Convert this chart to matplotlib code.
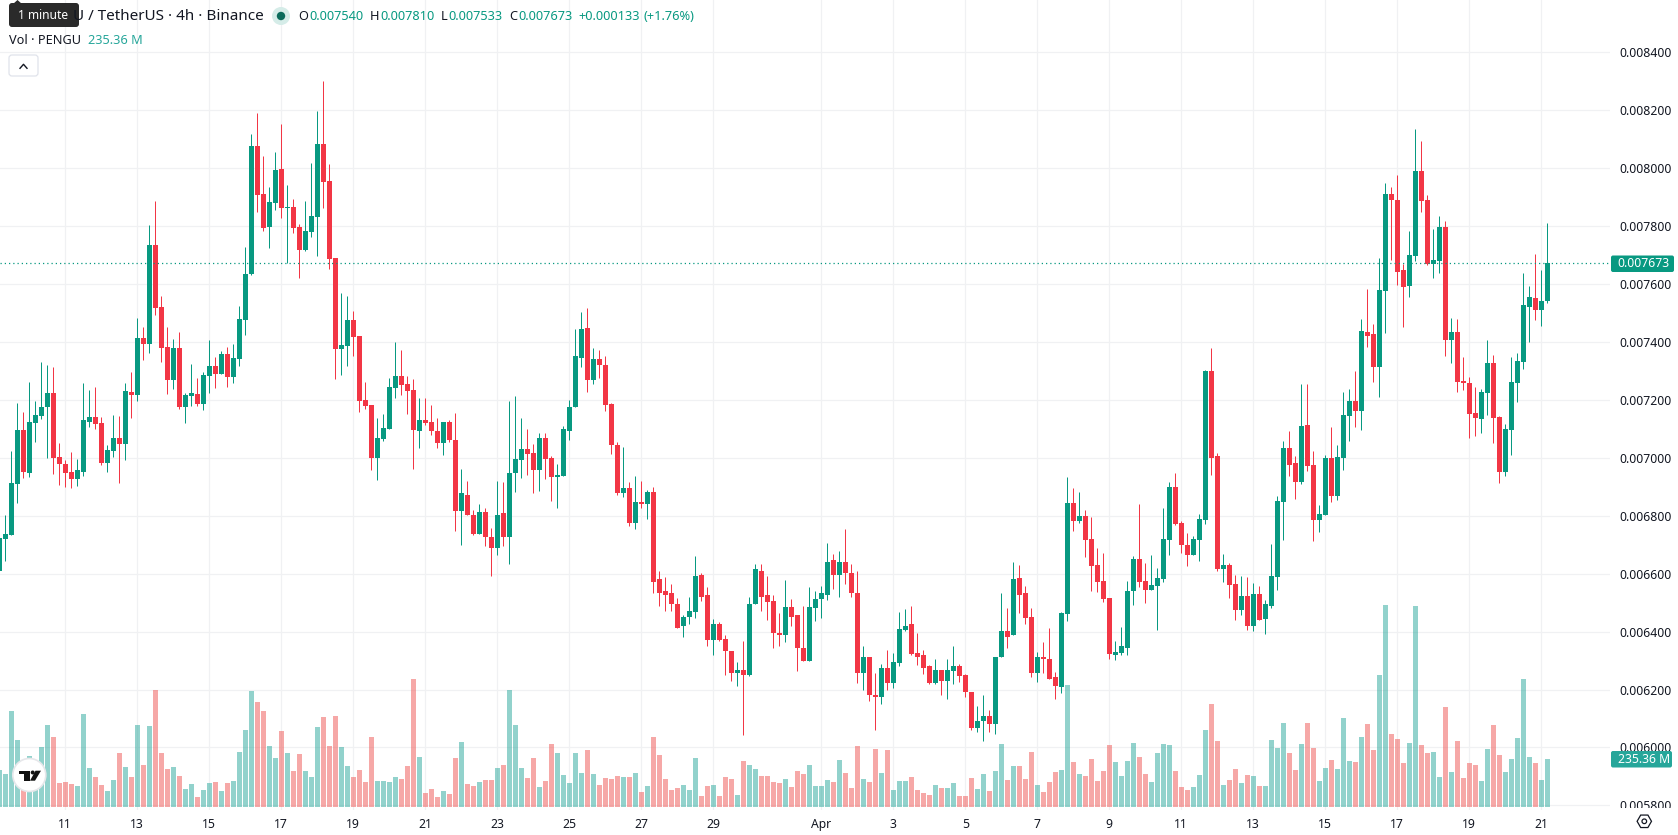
import matplotlib
matplotlib.use("Agg")
import matplotlib.pyplot as plt
from matplotlib.patches import Circle, FancyBboxPatch, Polygon, Rectangle
import numpy as np
import pandas as pd

# PENGU/USDT 4h bars, prices in millionths of a USDT
opens = [
    6610,
    6719, 6734, 6910, 7097, 6948, 7121, 7145, 7176, 7224, 7003,
    6979, 6952, 6927, 6952, 7124, 7141, 7121, 6983, 7024, 7069,
    7048, 7228, 7217, 7414, 7393, 7735, 7521, 7383, 7269, 7380,
    7176, 7214, 7221, 7186, 7283, 7318, 7290, 7359, 7280, 7342,
    7476, 7635, 8077, 7911, 7797, 7880, 7998, 7863, 7867, 7797,
    7718, 7780, 7832, 8084, 7956, 7690, 7376, 7387, 7476, 7421,
    7200, 7183, 7000, 7065, 7100, 7241, 7283, 7255, 7235, 7093,
    7132, 7125, 7094, 7053, 7125, 7063, 6818, 6873, 6804, 6738,
    6814, 6728, 6690, 6808, 6728, 6946, 6994, 7032, 7018, 6959,
    7070, 7001, 6935, 6939, 7094, 7174, 7346, 7450, 7270, 7343,
    7322, 7187, 7046, 6880, 6897, 6776, 6846, 6842, 6881, 6580,
    6539, 6532, 6497, 6418, 6449, 6466, 6594, 6528, 6370, 6428,
    6373, 6332, 6256, 6266, 6249, 6494, 6611, 6528, 6504, 6394,
    6387, 6484, 6456, 6345, 6297, 6480, 6511, 6528, 6646, 6597,
    6642, 6604, 6535, 6256, 6314, 6180, 6173, 6276, 6221, 6290,
    6404, 6425, 6325, 6318, 6280, 6221, 6266, 6231, 6263, 6280,
    6249, 6193, 6066, 6090, 6107, 6080, 6311, 6401, 6387, 6584,
    6532, 6452, 6256, 6311, 6307, 6242, 6210, 6462, 6845, 6783,
    6800, 6721, 6631, 6576, 6517, 6320, 6327, 6344, 6541, 6652,
    6576, 6545, 6559, 6583, 6717, 6900, 6776, 6700, 6666, 6717,
    6786, 7301, 7007, 6617, 6631, 6565, 6476, 6524, 6420, 6531,
    6445, 6490, 6590, 6849, 7035, 6983, 6918, 7114, 6976, 6786,
    6804, 7001, 6869, 7000, 7144, 7196, 7162, 7434, 7428, 7314,
    7576, 7911, 7890, 7649, 7593, 7697, 7990, 7890, 7669, 7680,
    7797, 7407, 7434, 7265, 7258, 7155, 7134, 7224, 7327, 7141,
    6951, 7096, 7258, 7331, 7521, 7552, 7510, 7540,
]
highs = [
    6722,
    6803, 7024, 7190, 7159, 7262, 7197, 7331, 7321, 7314, 7052,
    6993, 7021, 6996, 7259, 7235, 7245, 7141, 7045, 7148, 7145,
    7259, 7297, 7483, 7452, 7804, 7887, 7559, 7452, 7411, 7435,
    7224, 7324, 7276, 7297, 7407, 7349, 7369, 7383, 7393, 7525,
    7728, 8119, 8191, 8043, 7936, 8056, 8153, 7943, 7894, 7808,
    7887, 8018, 8198, 8302, 8015, 7690, 7570, 7559, 7507, 7421,
    7262, 7183, 7138, 7152, 7276, 7400, 7373, 7283, 7273, 7207,
    7208, 7184, 7136, 7125, 7132, 7156, 6963, 6921, 6821, 6842,
    6828, 6759, 6921, 6918, 7198, 7212, 7139, 7098, 7049, 7087,
    7087, 7008, 6980, 7111, 7201, 7446, 7502, 7519, 7381, 7374,
    7350, 7191, 7056, 7039, 6918, 6939, 6921, 6890, 6901, 6611,
    6587, 6563, 6515, 6456, 6521, 6660, 6604, 6553, 6442, 6432,
    6387, 6332, 6294, 6366, 6521, 6632, 6635, 6591, 6525, 6463,
    6577, 6511, 6459, 6487, 6553, 6539, 6559, 6705, 6667, 6680,
    6756, 6635, 6608, 6349, 6314, 6256, 6287, 6338, 6325, 6466,
    6477, 6490, 6394, 6335, 6283, 6307, 6266, 6304, 6349, 6287,
    6252, 6193, 6142, 6180, 6128, 6314, 6532, 6480, 6642, 6629,
    6556, 6480, 6328, 6363, 6414, 6259, 6469, 6935, 6897, 6883,
    6821, 6797, 6690, 6673, 6517, 6369, 6417, 6576, 6662, 6842,
    6638, 6666, 6621, 6828, 6918, 6949, 6783, 6742, 6731, 6807,
    7304, 7380, 7018, 6669, 6638, 6597, 6593, 6590, 6569, 6559,
    6510, 6704, 6869, 7059, 7094, 7007, 7256, 7256, 7025, 6838,
    7011, 7108, 7045, 7227, 7238, 7300, 7479, 7583, 7462, 7690,
    7949, 7935, 7977, 7669, 7783, 8135, 8094, 7907, 7790, 7835,
    7818, 7483, 7479, 7348, 7279, 7245, 7238, 7407, 7355, 7144,
    7117, 7348, 7362, 7638, 7593, 7704, 7649, 7810,
]
lows = [
    6610,
    6645, 6734, 6844, 6931, 6934, 7055, 7134, 7000, 6945, 6907,
    6900, 6896, 6903, 6938, 7107, 7100, 6976, 6952, 7003, 6914,
    6993, 7138, 7197, 7338, 7362, 7494, 7331, 7221, 7238, 7169,
    7121, 7179, 7179, 7166, 7224, 7241, 7290, 7245, 7259, 7318,
    7425, 7632, 7849, 7784, 7725, 7856, 7829, 7672, 7777, 7621,
    7715, 7763, 7697, 7863, 7652, 7273, 7286, 7318, 7352, 7159,
    7169, 6958, 6924, 7059, 7100, 7207, 7217, 7152, 6962, 7034,
    7115, 7080, 7035, 7011, 7056, 6749, 6700, 6801, 6735, 6738,
    6694, 6593, 6666, 6697, 6635, 6883, 6932, 6942, 6877, 6887,
    6928, 6852, 6828, 6939, 7063, 7174, 7315, 7229, 7256, 7277,
    7163, 7015, 6873, 6866, 6763, 6756, 6828, 6790, 6535, 6490,
    6470, 6470, 6414, 6380, 6425, 6446, 6504, 6349, 6318, 6366,
    6249, 6231, 6211, 6042, 6245, 6494, 6470, 6439, 6345, 6349,
    6363, 6418, 6263, 6297, 6297, 6435, 6446, 6508, 6546, 6521,
    6566, 6521, 6221, 6200, 6159, 6059, 6149, 6197, 6204, 6280,
    6401, 6318, 6283, 6252, 6218, 6218, 6180, 6169, 6218, 6225,
    6173, 6059, 6055, 6021, 6055, 6045, 6311, 6345, 6387, 6463,
    6428, 6242, 6225, 6256, 6235, 6166, 6189, 6438, 6748, 6776,
    6659, 6541, 6538, 6503, 6306, 6303, 6320, 6320, 6493, 6555,
    6500, 6545, 6407, 6572, 6666, 6769, 6673, 6628, 6666, 6645,
    6773, 6942, 6610, 6572, 6517, 6441, 6458, 6407, 6403, 6441,
    6393, 6483, 6545, 6717, 6938, 6859, 6911, 6956, 6714, 6745,
    6804, 6849, 6856, 6958, 7058, 7106, 7096, 7383, 7262, 7210,
    7431, 7683, 7597, 7452, 7555, 7680, 7849, 7666, 7621, 7638,
    7352, 7327, 7227, 7234, 7068, 7075, 7086, 7148, 7051, 6913,
    6937, 7010, 7193, 7307, 7400, 7476, 7455, 7533,
]
closes = [
    6722,
    6737, 6914, 7097, 6952, 7124, 7148, 7176, 7224, 7000, 6979,
    6948, 6927, 6958, 7131, 7141, 7117, 6983, 7027, 7069, 7048,
    7231, 7217, 7414, 7393, 7735, 7518, 7380, 7269, 7380, 7176,
    7217, 7224, 7186, 7286, 7318, 7290, 7359, 7280, 7345, 7480,
    7635, 8077, 7908, 7794, 7884, 7994, 7863, 7867, 7794, 7718,
    7784, 7835, 8084, 7953, 7687, 7376, 7390, 7476, 7418, 7197,
    7179, 7000, 7069, 7103, 7245, 7283, 7252, 7231, 7097, 7131,
    7122, 7091, 7053, 7125, 7060, 6818, 6877, 6801, 6738, 6814,
    6725, 6690, 6804, 6728, 6946, 6997, 7032, 7015, 6959, 7070,
    6997, 6935, 6942, 7098, 7177, 7350, 7446, 7270, 7343, 7322,
    7184, 7046, 6877, 6897, 6776, 6846, 6842, 6883, 6573, 6535,
    6528, 6497, 6414, 6452, 6470, 6591, 6521, 6370, 6428, 6370,
    6332, 6256, 6269, 6249, 6497, 6615, 6521, 6501, 6394, 6387,
    6484, 6452, 6342, 6297, 6484, 6511, 6532, 6642, 6597, 6642,
    6601, 6532, 6256, 6314, 6180, 6173, 6276, 6221, 6294, 6408,
    6421, 6321, 6314, 6276, 6221, 6266, 6231, 6266, 6280, 6245,
    6190, 6066, 6093, 6107, 6080, 6314, 6401, 6383, 6580, 6528,
    6446, 6256, 6311, 6304, 6238, 6211, 6465, 6845, 6783, 6800,
    6717, 6628, 6572, 6514, 6324, 6331, 6351, 6541, 6652, 6572,
    6545, 6562, 6586, 6721, 6900, 6773, 6700, 6666, 6721, 6790,
    7301, 7001, 6617, 6631, 6562, 6476, 6524, 6420, 6531, 6441,
    6496, 6593, 6852, 7035, 6976, 6918, 7111, 6973, 6786, 6807,
    7001, 6869, 7004, 7148, 7196, 7162, 7438, 7421, 7314, 7579,
    7911, 7890, 7642, 7590, 7700, 7990, 7887, 7669, 7683, 7797,
    7407, 7434, 7262, 7258, 7151, 7138, 7227, 7327, 7138, 6951,
    7099, 7262, 7334, 7528, 7555, 7510, 7541, 7673,
]
# volume per bar, millions of PENGU
volumes = [
    181,
    162, 471, 328, 116, 250, 149, 294, 402, 343, 118,
    123, 113, 103, 456, 191, 147, 108, 78, 132, 265,
    196, 147, 402, 206, 397, 574, 265, 186, 196, 152,
    88, 113, 49, 83, 118, 123, 78, 118, 127, 270,
    377, 569, 515, 471, 299, 240, 373, 265, 176, 260,
    176, 147, 392, 441, 299, 446, 294, 201, 147, 181,
    123, 343, 127, 127, 123, 147, 137, 201, 627, 245,
    69, 88, 49, 78, 64, 240, 319, 113, 103, 123,
    132, 132, 191, 206, 574, 402, 191, 142, 240, 98,
    127, 309, 265, 157, 118, 265, 167, 279, 162, 108,
    142, 137, 152, 147, 147, 167, 74, 103, 343, 255,
    137, 83, 93, 108, 83, 240, 54, 103, 108, 54,
    147, 137, 59, 225, 206, 186, 152, 152, 123, 118,
    137, 98, 176, 162, 206, 103, 103, 132, 123, 230,
    167, 93, 299, 137, 123, 284, 167, 279, 83, 127,
    127, 147, 83, 69, 59, 108, 93, 93, 118, 54,
    54, 142, 88, 162, 78, 176, 309, 132, 201, 201,
    137, 270, 108, 74, 123, 172, 181, 598, 221, 162,
    152, 235, 127, 176, 304, 221, 152, 225, 314, 245,
    162, 123, 265, 309, 304, 176, 98, 83, 98, 157,
    377, 505, 324, 108, 132, 186, 118, 157, 152, 103,
    103, 328, 289, 412, 265, 181, 309, 412, 289, 127,
    191, 230, 186, 436, 225, 221, 343, 407, 279, 647,
    990, 358, 333, 216, 314, 985, 304, 265, 270, 147,
    490, 172, 324, 142, 216, 206, 127, 284, 402, 255,
    172, 235, 338, 627, 245, 216, 132, 235.36,
]

price_ticks = [0.0058, 0.0060, 0.0062, 0.0064, 0.0066, 0.0068, 0.0070, 0.0072,
               0.0074, 0.0076, 0.0078, 0.0080, 0.0082, 0.0084]
tick_dates = ["2025-03-11", "2025-03-13", "2025-03-15", "2025-03-17", "2025-03-19",
              "2025-03-21", "2025-03-23", "2025-03-25", "2025-03-27", "2025-03-29",
              "2025-04-01", "2025-04-03", "2025-04-05", "2025-04-07", "2025-04-09",
              "2025-04-11", "2025-04-13", "2025-04-15", "2025-04-17", "2025-04-19",
              "2025-04-21"]
tick_labels = ["11", "13", "15", "17", "19", "21", "23", "25", "27", "29", "Apr",
               "3", "5", "7", "9", "11", "13", "15", "17", "19", "21"]

last_price = closes[-1] * 1e-6
last_volume = volumes[-1]

GREEN = "#089981"
RED = "#F23645"
VOL_GREEN = "#26a69a"
VOL_RED = "#ef5350"
GRID = "#f0f1f3"
TEXT = "#131722"

plt.rcParams["font.family"] = ["Noto Sans", "DejaVu Sans"]

W, H = 1678, 835
PANE_R, PANE_B = 1610, 810
PX_PER_BAR = 6.0

o = np.array(opens) * 1e-6
h = np.array(highs) * 1e-6
l = np.array(lows) * 1e-6
c = np.array(closes) * 1e-6
times = pd.date_range("2025-03-09 04:00", periods=len(o), freq="4h")
x = np.arange(len(o))
up = c >= o
tick_x = [times.get_loc(pd.Timestamp(d)) for d in tick_dates]

fig = plt.figure(figsize=(W / 100, H / 100), dpi=100, facecolor="white")
rect = [0, 1 - PANE_B / H, PANE_R / W, PANE_B / H]

# grid and axis labels sit on the lowest layer, so bars show it through
ax = fig.add_axes(rect)
ax_vol = ax.twinx()
ax_price = ax.twinx()
ax.set_zorder(1)
ax_vol.set_zorder(2)
ax_price.set_zorder(3)
ax_vol.patch.set_visible(False)
ax_price.patch.set_visible(False)

xlim = (0.111, 0.111 + PANE_R / PX_PER_BAR)
ylim = (0.005784, 0.008581)
ax.set_xlim(*xlim)
ax.set_ylim(*ylim)
ax_price.set_ylim(*ylim)
ax_vol.set_ylim(-14.7, 3954)

for s in ax.spines.values():
    s.set_visible(False)
ax.yaxis.tick_right()
ax.set_yticks(price_ticks)
ax.set_yticklabels([f"{p:.6f}" for p in price_ticks])
ax.set_xticks(tick_x)
ax.set_xticklabels(tick_labels)
ax.tick_params(axis="both", length=0, labelsize=8.8, labelcolor=TEXT)
ax.tick_params(axis="y", pad=6.5)
ax.tick_params(axis="x", pad=5.5)
for lab, txt in zip(ax.get_xticklabels(), tick_labels):
    if txt == "Apr":
        lab.set_fontweight("bold")
ax.grid(True, color=GRID, linewidth=0.9)
ax.set_axisbelow(True)

ax_vol.axis("off")
ax_price.axis("off")

# volume histogram
ax_vol.bar(x, volumes, width=0.85, color=[VOL_GREEN if u else VOL_RED for u in up],
           alpha=0.5, linewidth=0)

# candles: wicks first, bodies on top
candle_colors = [GREEN if u else RED for u in up]
ax_price.vlines(x, l, h, colors=candle_colors, linewidth=0.72)
body_low = np.minimum(o, c)
body_h = np.maximum(np.abs(c - o), 0.000004)
ax_price.bar(x, body_h, bottom=body_low, width=0.84, color=candle_colors, linewidth=0)

# last price line
ax_price.axhline(last_price, color=GREEN, linewidth=0.9, linestyle=(0, (1, 2.4)))

# header, labels and buttons are laid out in pixels
ui = fig.add_axes([0, 0, 1, 1])
ui.set_xlim(0, W)
ui.set_ylim(H, 0)
ui.axis("off")
ui.set_zorder(5)
ui.patch.set_visible(False)

ui.add_patch(Rectangle((PANE_R, 808), W - PANE_R, H - 808, color="white", linewidth=0))

ui.text(263.5, 16, "U / TetherUS · 4h · Binance", fontsize=11, color=TEXT,
        ha="right", va="center")

# tooltip over the symbol name
ui.add_patch(FancyBboxPatch((11, 5), 66, 20, boxstyle="round,pad=2,rounding_size=3",
                            facecolor="#2a2a2a", edgecolor="none"))
ui.add_patch(Polygon([(13, 4), (17.5, 0), (22, 4)], closed=True, facecolor="#2a2a2a",
                     edgecolor="none"))
ui.text(43.5, 15.5, "1 minute", fontsize=8.6, color="white", ha="center", va="center")

# market status dot
ui.add_patch(Circle((281, 16), 9, facecolor="#d5ece8", edgecolor="none"))
ui.add_patch(Circle((281, 16), 4.2, facecolor="#0b6b5b", edgecolor="none"))

# OHLC readout
readout = [(298, "O", 309.5, opens[-1]), (370, "H", 380, highs[-1]),
           (441, "L", 448, lows[-1]), (509, "C", 518, closes[-1])]
for lx, letter, vx, val in readout:
    ui.text(lx, 16, letter, fontsize=9.2, color=TEXT, va="center")
    ui.text(vx, 16, f"{val * 1e-6:.6f}", fontsize=9.2, color=GREEN, va="center")
ui.text(578.5, 16, "+0.000133", fontsize=9.2, color=GREEN, va="center")
ui.text(643.5, 16, "(+1.76%)", fontsize=9.2, color=GREEN, va="center")

ui.text(9, 40.5, "Vol · PENGU", fontsize=9.2, color=TEXT, va="center")
ui.text(88, 40.5, f"{last_volume:.2f} M", fontsize=9.2, color=VOL_GREEN, va="center")

# collapse button
ui.add_patch(FancyBboxPatch((11, 57), 25, 17, boxstyle="round,pad=2,rounding_size=3",
                            facecolor="white", edgecolor="#e0e3eb", linewidth=0.9))
ui.plot([20, 23.5, 27], [68.3, 64.3, 68.3], color=TEXT, linewidth=1)

# price scale badges
ui.add_patch(FancyBboxPatch((1612, 256.5), 61, 14.5, boxstyle="round,pad=1,rounding_size=2",
                            facecolor=GREEN, edgecolor="none"))
ui.text(1617.8, 263.7, f"{last_price:.6f}", fontsize=8.8, color="white", va="center")
ui.add_patch(FancyBboxPatch((1612, 752), 59, 14.5, boxstyle="round,pad=1,rounding_size=2",
                            facecolor=VOL_GREEN, edgecolor="none"))
ui.text(1617.8, 759.5, f"{last_volume:.2f} M", fontsize=8.8, color="white", va="center")

# logo badge
ui.add_patch(Circle((29.3, 775), 16.5, facecolor="white", edgecolor="#e6e7ea", linewidth=1.2))
ui.add_patch(Polygon([(19, 770.7), (29.5, 770.7), (29.5, 780.7), (24.4, 780.7),
                      (24.4, 774), (19, 774)], closed=True, facecolor="#111111", edgecolor="none"))
ui.add_patch(Circle((32.7, 772.5), 2, facecolor="#111111", edgecolor="none"))
ui.add_patch(Polygon([(35, 780.7), (41, 770.7), (35.5, 770.7), (30, 780.7)], closed=True,
                     facecolor="#111111", edgecolor="none"))

# settings icon under the price scale
angles = np.deg2rad(np.arange(0, 360, 60))
ui.add_patch(Polygon(np.c_[1644.3 + 7.2 * np.cos(angles), 821.3 + 7.2 * np.sin(angles)],
                     closed=True, facecolor="none", edgecolor=TEXT, linewidth=0.9))
ui.add_patch(Circle((1644.3, 821.3), 2.3, facecolor="none", edgecolor=TEXT, linewidth=0.9))

fig.savefig("out.png", dpi=100)
